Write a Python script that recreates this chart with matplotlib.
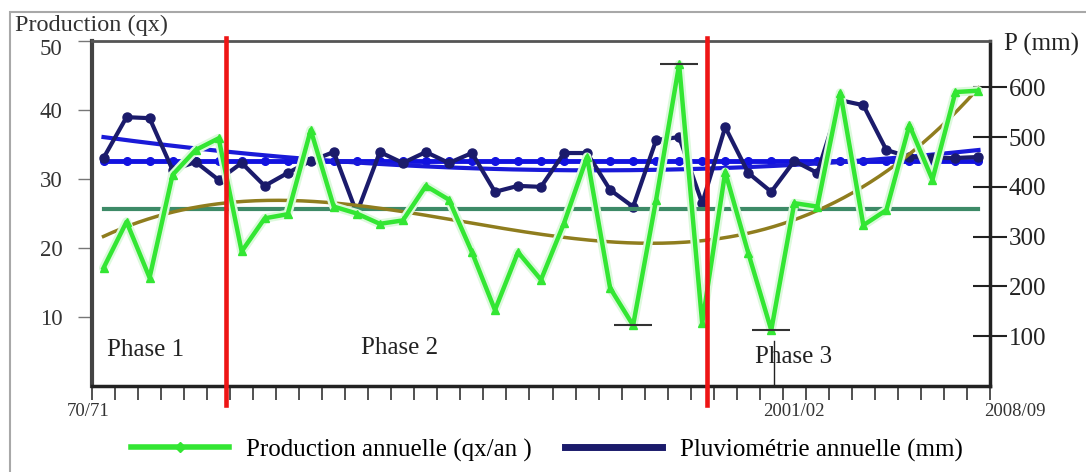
import numpy as np
import matplotlib
matplotlib.use("Agg")
import matplotlib.pyplot as plt
from matplotlib.lines import Line2D
from matplotlib.patches import Rectangle

plt.rcParams['font.family'] = ['Liberation Serif', 'DejaVu Serif']

# ---- data -------------------------------------------------------------
seasons = [f"{y % 100:02d}/{(y + 1) % 100:02d}" for y in range(1970, 2009)]
production = [17.1, 23.8, 15.7, 30.6, 34.2, 35.9, 19.5, 24.3, 24.9, 37.1,
              26.0, 25.0, 23.5, 24.0, 29.0, 27.0, 19.4, 11.0, 19.4, 15.4,
              23.6, 33.2, 14.2, 8.8, 27.0, 46.6, 9.1, 31.0, 19.3, 8.1,
              26.5, 26.0, 42.5, 23.3, 25.5, 37.8, 29.9, 42.6, 42.8]
rainfall = [458, 540, 538, 434, 450, 414, 448, 402, 428, 452,
            470, 347, 470, 448, 470, 448, 468, 390, 402, 400,
            468, 468, 394, 360, 494, 500, 367, 520, 428, 390,
            452, 428, 574, 564, 474, 460, 458, 458, 460]
# rainfall trend curve (value at start / middle / end)
rain_trend_idx = [0, 19, 38]
rain_trend_val = [500, 434, 474]
extreme_idx = [23, 25, 29]              # years marked with a cap
phase_breaks = [5.3, 26.2]              # red separators (category position)
phase_labels = ["Phase 1", "Phase 2", "Phase 3"]
phase_pos = [(0.15, 5.2), (11.2, 5.5), (28.3, 4.2)]
xlabels = ["70/71", "2001/02", "2008/09"]
xlabel_pos = [-0.65, 30.0, 39.6]
left_ticks = [10, 20, 30, 40, 50]
right_ticks = [100, 200, 300, 400, 500, 600]

x = np.arange(len(production))
prod = np.array(production, dtype=float)
rain = np.array(rainfall, dtype=float)

FS = 18
TFS = 16.5

# ---- figure -----------------------------------------------------------
fig = plt.figure(figsize=(10.86, 4.72), dpi=100)
fig.patch.set_facecolor('white')
ax = fig.add_axes([92 / 1086, 1 - 386 / 472, (990 - 92) / 1086, (386 - 41) / 472])
ax2 = ax.twinx()

ax.set_xlim(-0.5, 38.5)
ax.set_ylim(0, 50)
ax2.set_ylim(0, 693)

# production mean and trend (left axis)
ax.plot(x, np.full_like(prod, prod.mean()), color='#3d8a67', lw=3, zorder=2)
pc = np.polyfit(x, prod, 3)
xs = np.linspace(0, 38, 300)
ax.plot(xs, np.polyval(pc, xs), color='#8f7d1e', lw=2.5, zorder=3)

# rainfall mean and trend (right axis)
ax2.plot(x, np.full_like(rain, rain.mean()), color='#1212e0', lw=3.5,
         marker='o', ms=5.5, zorder=4)
rc = np.polyfit(rain_trend_idx, rain_trend_val, 2)
ax2.plot(xs, np.polyval(rc, xs), color='#1a1ad8', lw=3, zorder=4)
ax2.plot(x, rain, color='#1b1b6b', lw=3, marker='o', ms=6.5, zorder=5)

# production series
ax.plot(x, prod, color='#dcf9dc', lw=6.5, zorder=5, solid_capstyle='round')
ax.plot(x, prod, color='#33e633', lw=3.2, marker='^', ms=5.5, zorder=6)
ax.plot(x[extreme_idx], prod[extreme_idx], ls='none', marker='_', ms=27,
        mew=1.5, color='#333333', zorder=7)

ax.set_zorder(ax2.get_zorder() + 1)
ax.patch.set_visible(False)

# red phase separators
for b in phase_breaks:
    ax.plot([b, b], [-0.055, 1.009], color='#ee1515', lw=3.3,
            transform=ax.get_xaxis_transform(), clip_on=False, zorder=8)

for lab, (px, py) in zip(phase_labels, phase_pos):
    ax.text(px, py, lab, fontsize=FS, va='center', ha='left', color='#222222', zorder=9)

# small marker line at 2001/02
ax.plot([29.1, 29.1], [0, 0.13], color='#222222', lw=1,
        transform=ax.get_xaxis_transform(), zorder=9)

# ---- axes styling -------------------------------------------------------
ax.set_xticks(np.arange(-0.5, 39, 1))
ax.set_xticklabels([])
ax.tick_params(axis='x', direction='out', length=10, width=1.2, color='#333333')
ax.set_yticks(left_ticks)
ax.set_yticklabels([str(t) if t != 50 else '' for t in left_ticks])
ax.tick_params(axis='y', direction='out', length=10, width=1, color='#777777',
               labelsize=TFS, pad=11, labelcolor='#333333')
ax.text(-0.0334, 48.7, "50", fontsize=TFS, ha='right', va='center',
        color='#333333', transform=ax.get_yaxis_transform())
ax2.set_yticks(right_ticks)
ax2.set_yticklabels([str(t) for t in right_ticks])
ax2.tick_params(axis='y', direction='inout', length=24, width=1.5, color='#222222',
                labelsize=FS, pad=1.5, labelcolor='#222222')

ax.spines['left'].set_color('#444444')
ax.spines['left'].set_linewidth(3)
ax.spines['top'].set_color('#555555')
ax.spines['top'].set_linewidth(2)
ax.spines['bottom'].set_color('#222222')
ax.spines['bottom'].set_linewidth(2.5)
ax.spines['right'].set_visible(False)
for s in ['left', 'top', 'bottom']:
    ax2.spines[s].set_visible(False)
ax2.spines['right'].set_color('#222222')
ax2.spines['right'].set_linewidth(2.5)

for lab, px in zip(xlabels, xlabel_pos):
    ax.text(px, -0.075, lab, fontsize=13.5, ha='center', va='center',
            color='#333333', transform=ax.get_xaxis_transform())

fig.text(15 / 1086, 1 - 25 / 472, "Production (qx)", fontsize=17.5,
         ha='left', va='center', color='#333333')
fig.text(1004 / 1086, 1 - 44 / 472, "P (mm)", fontsize=FS,
         ha='left', va='center', color='#222222')

handles = [Line2D([], [], color='#33e633', lw=4, marker='D', ms=5),
           Line2D([], [], color='#1b1b6b', lw=5)]
fig.legend(handles, ["Production annuelle (qx/an )", "Pluviométrie annuelle (mm)"],
           loc='center', bbox_to_anchor=(547 / 1086, 1 - 450 / 472), ncol=2,
           frameon=False, fontsize=FS, handlelength=3.9, handletextpad=0.7,
           columnspacing=1.3, numpoints=1)

fig.add_artist(Rectangle((10 / 1086, -0.1), 1.2, 1 - 12 / 472 + 0.1,
                         transform=fig.transFigure, fill=False,
                         ec='#a8a8a8', lw=1.5))

fig.savefig("out.png", dpi=100, facecolor='white')
